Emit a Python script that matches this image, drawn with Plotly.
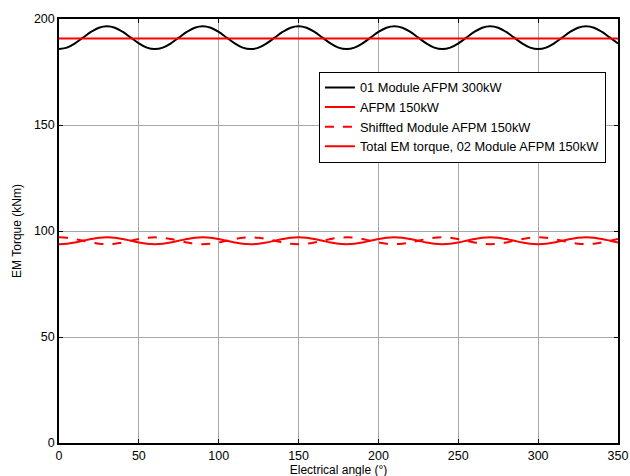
import plotly.graph_objects as go

angle = list(range(0, 351, 5))

one_cycle_300 = [185.8, 186.5, 188.5, 191.2, 193.9, 195.9, 196.6, 195.9, 193.9, 191.2, 188.5, 186.5]
one_cycle_150 = [93.8, 94.0, 94.6, 95.4, 96.2, 96.8, 97.0, 96.8, 96.2, 95.4, 94.6, 94.0]
one_cycle_shift = [97.0, 96.8, 96.2, 95.4, 94.6, 94.0, 93.8, 94.0, 94.6, 95.4, 96.2, 96.8]

module_300kw = (one_cycle_300 * 6)[:len(angle)]
afpm_150kw = (one_cycle_150 * 6)[:len(angle)]
shifted_150kw = (one_cycle_shift * 6)[:len(angle)]
total_150kw = [a + b for a, b in zip(afpm_150kw, shifted_150kw)]

names = ["01 Module AFPM 300kW", "AFPM 150kW", "Shiffted Module AFPM 150kW",
         "Total EM torque, 02 Module AFPM 150kW"]

FONT = "Liberation Sans, Arial"

fig = go.Figure()
fig.add_trace(go.Scatter(x=angle, y=module_300kw, mode="lines", name=names[0],
                         line=dict(color="black", width=2, shape="spline")))
fig.add_trace(go.Scatter(x=angle, y=afpm_150kw, mode="lines", name=names[1],
                         line=dict(color="red", width=2, shape="spline")))
fig.add_trace(go.Scatter(x=angle, y=shifted_150kw, mode="lines", name=names[2],
                         line=dict(color="red", width=2, dash="dash", shape="spline")))
fig.add_trace(go.Scatter(x=angle, y=total_150kw, mode="lines", name=names[3],
                         line=dict(color="red", width=2)))

axis_common = dict(showline=True, linecolor="black", linewidth=1.5, mirror="ticks",
                   ticks="inside", ticklen=4, tickcolor="black",
                   showgrid=True, gridcolor="#a8a8a8", gridwidth=1,
                   zeroline=False, tickfont=dict(family=FONT, size=12.5, color="black"),
                   title_font=dict(family=FONT, size=12, color="black"))

fig.update_xaxes(range=[0, 350], tickvals=list(range(0, 351, 50)),
                 title_text="Electrical angle (°)", title_standoff=1, **axis_common)
fig.update_yaxes(range=[0, 200], tickvals=list(range(0, 201, 50)),
                 title_text="EM Torque (kNm)", title_standoff=10, **axis_common)

fig.update_layout(
    width=640, height=484,
    margin=dict(l=59, r=12, t=16, b=37),
    plot_bgcolor="white", paper_bgcolor="white",
    legend=dict(x=0.465, y=0.876, xanchor="left", yanchor="top",
                bordercolor="black", borderwidth=1, bgcolor="white",
                font=dict(family=FONT, size=12.8, color="black"),
                tracegroupgap=0, itemwidth=30),
    showlegend=True,
)

post = ("document.documentElement.style.margin='0';"
        "document.body.style.margin='0';"
        "document.body.style.overflow='hidden';"
        "document.documentElement.style.overflow='hidden';"
        "var d=document.getElementById('{plot_id}');"
        "d.style.position='fixed';d.style.left='0px';d.style.top='0px';")

fig.write_html("out.html", config={"displayModeBar": False}, post_script=post)
